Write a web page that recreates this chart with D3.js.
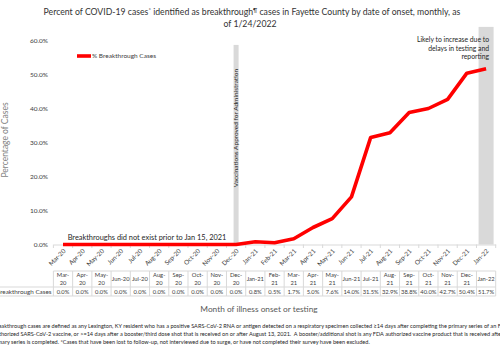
<!DOCTYPE html>
<html>
<head>
<meta charset="utf-8">
<script src="https://cdn.jsdelivr.net/npm/d3@7"></script>
<style>
  body { margin: 0; background: #fff; }
  svg { font-family: Lato, "Open Sans", sans-serif; }
</style>
</head>
<body>
<div id="chart"></div>
<script>
// months of onset and % of cases that were breakthroughs
const months = ["Mar-20", "Apr-20", "May-20", "Jun-20", "Jul-20", "Aug-20", "Sep-20", "Oct-20",
  "Nov-20", "Dec-20", "Jan-21", "Feb-21", "Mar-21", "Apr-21", "May-21", "Jun-21", "Jul-21",
  "Aug-21", "Sep-21", "Oct-21", "Nov-21", "Dec-21", "Jan-22"];
const breakthroughPct = [0.0, 0.0, 0.0, 0.0, 0.0, 0.0, 0.0, 0.0, 0.0, 0.0, 0.8, 0.5, 1.7,
  5.0, 7.6, 14.0, 31.5, 32.9, 38.8, 40.0, 42.7, 50.4, 51.7];
const yTicks = [0, 10, 20, 30, 40, 50, 60];
// gray marker bars (vaccine approval, reporting delay)
const markerMonths = ["Dec-20", "Jan-22"];
const markerValues = [58.7, 64];
// table headers that fit on one line
const oneLineHeaders = ["Jun-20", "Jul-20", "Jan-21", "Jun-21", "Jul-21", "Jan-22"];

const width = 500, height = 350;
const margin = { top: 40.5, left: 53.4, right: 4.3, bottom: 105.5 };

const svg = d3.select("#chart").append("svg")
  .attr("width", width)
  .attr("height", height);

const x = d3.scaleBand()
  .domain(months)
  .range([margin.left, width - margin.right]);

const y = d3.scaleLinear()
  .domain([0, 60])
  .range([height - margin.bottom, margin.top]);

const fmt = d => d3.format(".1f")(d) + "%";
const grey = "#d9d9d9";
const textCol = "#404040";

// title (with superscript marks)
const title = svg.append("text")
  .attr("x", 252).attr("y", 15)
  .attr("text-anchor", "middle")
  .attr("font-size", 8.7)
  .attr("fill", "#333");
title.append("tspan").text("Percent of COVID-19 cases");
title.append("tspan").attr("font-size", 6).attr("dy", -3).text("*");
title.append("tspan").attr("dy", 3).text(" identified as breakthrough");
title.append("tspan").attr("font-size", 6).attr("dy", -3).text("¶");
title.append("tspan").attr("dy", 3).text(" cases in Fayette County by date of onset, monthly, as");
svg.append("text")
  .attr("x", 250).attr("y", 27)
  .attr("text-anchor", "middle")
  .attr("font-size", 8.7)
  .attr("fill", "#333")
  .text("of 1/24/2022");

// gray bars
svg.selectAll("rect.marker")
  .data(markerMonths)
  .enter()
  .append("rect")
  .attr("class", "marker")
  .attr("x", (d, i) => x(d) + x.bandwidth() / 2 - (i === 0 ? 2.5 : 7.5))
  .attr("width", (d, i) => i === 0 ? 5 : 15)
  .attr("y", (d, i) => y(markerValues[i]))
  .attr("height", (d, i) => y(0) - y(markerValues[i]))
  .attr("fill", grey);

// y axis labels
svg.append("g")
  .selectAll("text")
  .data(yTicks)
  .enter()
  .append("text")
  .attr("x", 48)
  .attr("y", d => y(d) + 2)
  .attr("text-anchor", "end")
  .attr("font-size", 6.5)
  .attr("fill", textCol)
  .text(fmt);

// y axis title
svg.append("text")
  .attr("transform", `translate(8,140) rotate(-90)`)
  .attr("text-anchor", "middle")
  .attr("font-size", 8.5)
  .attr("fill", "#7f7f7f")
  .text("Percentage of Cases");

// x axis
const xAxis = svg.append("g")
  .attr("transform", `translate(0,${y(0)})`)
  .call(d3.axisBottom(x).tickSize(0).tickFormat(""));
xAxis.select(".domain").attr("stroke", grey);
xAxis.selectAll("line.sep")
  .data(d3.range(months.length + 1))
  .enter()
  .append("line")
  .attr("class", "sep")
  .attr("x1", i => margin.left + i * x.step())
  .attr("x2", i => margin.left + i * x.step())
  .attr("y1", 0).attr("y2", 3.5)
  .attr("stroke", grey);

// rotated month labels
svg.append("g")
  .selectAll("text")
  .data(months)
  .enter()
  .append("text")
  .attr("transform", d => `translate(${x(d) + x.bandwidth() / 2 + 3},${y(0) + 7}) rotate(-45)`)
  .attr("text-anchor", "end")
  .attr("font-size", 6.3)
  .attr("fill", textCol)
  .text(d => d);

// annotations
svg.append("text")
  .attr("x", 147).attr("y", 239.5)
  .attr("text-anchor", "middle")
  .attr("font-size", 7.4)
  .attr("fill", "#262626")
  .text("Breakthroughs did not exist prior to Jan 15, 2021");

svg.append("text")
  .attr("transform", `translate(${x("Dec-20") + x.bandwidth() / 2 + 2.3},128) rotate(-90)`)
  .attr("text-anchor", "middle")
  .attr("font-size", 6.5)
  .attr("fill", "#262626")
  .text("Vaccinations Approved for Administration");

const note = svg.append("text")
  .attr("text-anchor", "end")
  .attr("font-size", 6.8)
  .attr("fill", "#262626");
["Likely to increase due to", "delays in testing and", "reporting"].forEach((t, i) => {
  note.append("tspan").attr("x", 489).attr("y", 42 + i * 8.7).text(t);
});

// line
const line = d3.line()
  .x((d, i) => x(months[i]) + x.bandwidth() / 2)
  .y(d => y(d));

svg.append("path")
  .datum(breakthroughPct)
  .attr("d", line)
  .attr("fill", "none")
  .attr("stroke", "#ff0000")
  .attr("stroke-width", 3.6)
  .attr("stroke-linejoin", "round");

// legend
svg.append("line")
  .attr("x1", 77).attr("x2", 91)
  .attr("y1", 56).attr("y2", 56)
  .attr("stroke", "#ff0000")
  .attr("stroke-width", 3.6);
svg.append("text")
  .attr("x", 92).attr("y", 58.3)
  .attr("font-size", 6.5)
  .attr("fill", textCol)
  .text("% Breakthrough Cases");

// data table
const tTop = 271, tMid = 287, tBot = 296;
const table = svg.append("g");
table.append("line")
  .attr("x1", margin.left).attr("x2", width - margin.right)
  .attr("y1", tTop).attr("y2", tTop).attr("stroke", grey);
table.append("line")
  .attr("x1", 0).attr("x2", width - margin.right)
  .attr("y1", tMid).attr("y2", tMid).attr("stroke", grey);
table.append("line")
  .attr("x1", 0).attr("x2", width - margin.right)
  .attr("y1", tBot).attr("y2", tBot).attr("stroke", grey);
table.selectAll("line.col")
  .data(d3.range(months.length + 1))
  .enter()
  .append("line")
  .attr("class", "col")
  .attr("x1", i => margin.left + i * x.step())
  .attr("x2", i => margin.left + i * x.step())
  .attr("y1", tTop).attr("y2", tBot)
  .attr("stroke", grey);

const head = table.selectAll("text.head")
  .data(months)
  .enter()
  .append("text")
  .attr("class", "head")
  .attr("text-anchor", "middle")
  .attr("font-size", 5.8)
  .attr("fill", textCol);
head.each(function(d) {
  const cx = x(d) + x.bandwidth() / 2;
  const t = d3.select(this);
  if (oneLineHeaders.includes(d)) {
    t.append("tspan").attr("x", cx).attr("y", 281).text(d);
  } else {
    const parts = d.split("-");
    t.append("tspan").attr("x", cx).attr("y", 277).text(parts[0] + "-");
    t.append("tspan").attr("x", cx).attr("y", 284.5).text(parts[1]);
  }
});

table.selectAll("text.val")
  .data(breakthroughPct)
  .enter()
  .append("text")
  .attr("class", "val")
  .attr("x", (d, i) => x(months[i]) + x.bandwidth() / 2)
  .attr("y", 293.7)
  .attr("text-anchor", "middle")
  .attr("font-size", 5.8)
  .attr("fill", textCol)
  .text(fmt);

table.append("text")
  .attr("x", 51.5).attr("y", 293.7)
  .attr("text-anchor", "end")
  .attr("font-size", 6.3)
  .attr("fill", textCol)
  .text("% Breakthrough Cases");

// x axis title
svg.append("text")
  .attr("x", 259).attr("y", 312)
  .attr("text-anchor", "middle")
  .attr("font-size", 8.3)
  .attr("fill", "#595959")
  .text("Month of illness onset or testing");

// footnote
const foot = [
  "¶Breakthrough cases are defined as any Lexington, KY resident who has a positive SARS-CoV-2 RNA or antigen detected on a respiratory specimen collected ≥14 days after completing the primary series of an FDA",
  "authorized SARS-CoV-2 vaccine, or >=14 days after a booster/third dose shot that is received on or after August 13, 2021.  A booster/additional shot is any FDA authorized vaccine product that is received after the",
  "primary series is completed. *Cases that have been lost to follow-up, not interviewed due to surge, or have not completed their survey have been excluded."
];
const footX = [-11, -7, -9];
svg.append("g")
  .selectAll("text")
  .data(foot)
  .enter()
  .append("text")
  .attr("x", (d, i) => footX[i])
  .attr("y", (d, i) => 328 + i * 8)
  .attr("font-size", 5.6)
  .attr("fill", "#262626")
  .attr("xml:space", "preserve")
  .text(d => d);
</script>
</body>
</html>
